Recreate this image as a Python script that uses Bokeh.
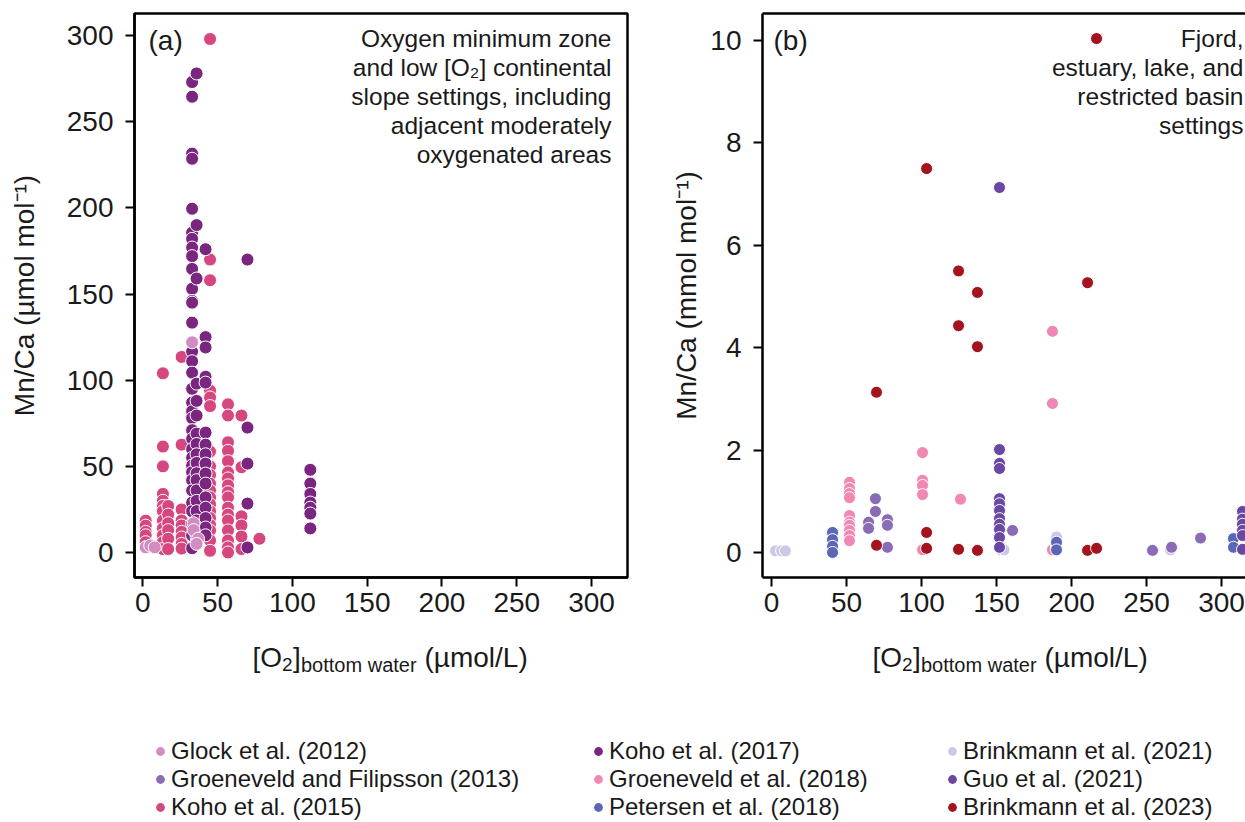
from bokeh.plotting import figure
from bokeh.layouts import column, row
from bokeh.models import Range1d, FixedTicker, Label, Legend, LegendItem, LinearAxis
from bokeh.embed import file_html
from bokeh.resources import INLINE

FONT = "Liberation Sans"
TXT = "#1a1a1a"

# ---------------- data ----------------
series_names = ["Glock et al. (2012)", "Groeneveld and Filipsson (2013)", "Koho et al. (2015)",
                "Koho et al. (2017)", "Groeneveld et al. (2018)", "Petersen et al. (2018)",
                "Brinkmann et al. (2021)", "Guo et al. (2021)", "Brinkmann et al. (2023)"]
series_colors = ["#d38cc2", "#8a6bb5", "#d6467f", "#7a2680", "#f088b3", "#5b66b6",
                 "#cdc8e6", "#6a47a2", "#a3141f"]

x_ticks = [0, 50, 100, 150, 200, 250, 300]
ya_ticks = [0, 50, 100, 150, 200, 250, 300]
yb_ticks = [0, 2, 4, 6, 8, 10]

# Panel (a): Mn/Ca in umol/mol
koho2015_o2 = [2, 2, 2, 2, 2, 2,
               13.5, 13.5, 13.5, 13.5, 13.5, 13.5, 13.5, 13.5, 13.5, 13.5, 13.5, 13.5,
               17, 17, 17, 17, 17, 17,
               26, 26, 26, 26, 26, 26, 26, 26, 26,
               45, 45, 45, 45, 45, 45, 45, 45, 45, 45, 45, 45, 45, 45, 45, 45, 45, 45, 45,
               57, 57, 57, 57, 57, 57, 57, 57, 57, 57, 57, 57, 57, 57, 57, 57, 57,
               66, 66, 66, 66, 66, 66,
               78]
koho2015_mnca = [18.5, 15.6, 12, 10, 6, 3,
                 104, 61.5, 50, 34, 30, 27, 24, 18.5, 14, 10, 6, 2,
                 27, 22, 17, 13, 8, 2,
                 113.5, 62.6, 25, 18.6, 15.7, 12, 8.7, 5, 2.3,
                 298, 170, 158, 94, 90, 85, 58.6, 50, 45, 40, 36, 32, 28, 24, 20, 16, 12.8, 7, 1,
                 86, 79.5, 64, 59, 53, 46.5, 43, 39, 35, 32, 26, 22, 18.6, 12.8, 7, 3, 0,
                 79.5, 49.5, 21, 15.7, 9.3, 2,
                 8]

koho2017_o2 = [33, 33, 33, 33, 33, 33, 33, 33, 33, 33, 33, 33, 33, 33, 33, 33, 33,
               33, 33, 33, 33, 33, 33, 33, 33, 33, 33, 33, 33, 33, 33, 33, 33, 33,
               36, 36, 36, 36, 36, 36, 36, 36, 36, 36, 36, 36, 36, 36, 36, 36, 36, 36,
               42, 42, 42, 42, 42, 42, 42, 42, 42, 42, 42, 42, 42, 42, 42, 42,
               70, 70, 70, 70, 70,
               112, 112, 112, 112, 112, 112, 112]
koho2017_mnca = [273, 264.5, 231.5, 228.5, 199.5, 185.6, 182, 177, 172, 164.6, 153, 146, 145, 133.4,
                 116.6, 111, 104.4, 95, 87, 82, 78, 71, 66, 60, 55, 50.5, 46.6, 42, 36, 29, 24,
                 16.8, 10, 2.5,
                 278, 190, 159, 98, 88, 79.5, 69, 63, 57, 52, 46, 42, 36, 30, 24, 18.6, 12.8, 8.7,
                 176, 125, 119, 102, 98.6, 69.6, 62.6, 57, 51.6, 45.8, 40, 32, 26, 20, 14.5, 10,
                 170, 72.5, 51.6, 28.4, 2.9,
                 48, 40, 34, 29, 26, 22.6, 14]

glock2012_o2 = [2, 5, 8, 33, 34, 34, 37, 36]
glock2012_mnca = [3, 4, 3, 122, 17, 13, 8, 5]

# Panel (b): Mn/Ca in mmol/mol
gf2013_o2 = [69.3, 69.3, 64.7, 64.7, 77.3, 77.3, 77.3, 160.7, 254, 266.7, 286]
gf2013_mnca = [1.05, 0.8, 0.59, 0.47, 0.64, 0.53, 0.1, 0.43, 0.04, 0.1, 0.28]

groen2018_o2 = [187.3, 187.3, 187.3, 100.7, 100.7, 100.7, 100.7, 100.7, 126,
                52, 52, 52, 52, 52, 52, 52, 52, 52, 52]
groen2018_mnca = [4.32, 2.91, 0.05, 1.95, 1.41, 1.31, 1.13, 0.05, 1.04,
                  1.37, 1.25, 1.15, 1.07, 0.72, 0.59, 0.53, 0.43, 0.33, 0.23]

petersen2018_o2 = [40.7, 40.7, 40.7, 40.7, 190, 190, 190, 308, 308]
petersen2018_mnca = [0.39, 0.25, 0.12, 0.0, 0.15, 0.2, 0.05, 0.27, 0.1]

brink2021_o2 = [2.7, 6.7, 9.3, 153, 155, 190, 190, 266]
brink2021_mnca = [0.03, 0.03, 0.03, 0.05, 0.05, 0.3, 0.1, 0.05]

guo2021_o2 = [152, 152, 152, 152, 152, 152, 152, 152, 152, 152, 152, 152,
              314, 314, 314, 314, 314, 314]
guo2021_mnca = [7.13, 2.01, 1.74, 1.64, 1.05, 0.95, 0.82, 0.66, 0.55, 0.45, 0.29, 0.1,
                0.8, 0.65, 0.55, 0.43, 0.33, 0.06]

brink2023_o2 = [216.7, 103.4, 124.7, 137.3, 210.7, 124.7, 137.3, 70, 70, 103.4, 103.4,
                124.7, 137.3, 210.7, 216.7]
brink2023_mnca = [10.04, 7.5, 5.5, 5.08, 5.27, 4.43, 4.02, 3.13, 0.14, 0.39, 0.08,
                  0.06, 0.04, 0.04, 0.08]

COL = dict(zip(series_names, series_colors))

FRAME_H = 564


def make_panel(xr, yr, yticks, ylabel, fw, mbl, mbr, label_standoff, outline):
    p = figure(frame_width=fw, frame_height=FRAME_H, x_range=xr, y_range=yr,
               output_backend="svg", toolbar_location=None,
               min_border_left=mbl, min_border_right=mbr, min_border_top=13,
               min_border_bottom=50)
    p.grid.visible = False
    p.background_fill_color = "white"
    p.border_fill_color = "white"
    xa = p.below[0]
    ya = p.left[0]
    xa.ticker = FixedTicker(ticks=x_ticks, minor_ticks=[])
    ya.ticker = FixedTicker(ticks=yticks, minor_ticks=[])
    for ax in (xa, ya):
        ax.axis_line_width = 2.5
        ax.axis_line_color = "black"
        ax.major_tick_line_width = 2
        ax.major_tick_line_color = "black"
        ax.major_tick_out = 9
        ax.major_tick_in = 0
        ax.minor_tick_line_color = None
        ax.major_label_text_font = FONT
        ax.major_label_text_font_size = "28px"
        ax.major_label_text_color = TXT
    xa.major_label_standoff = 6
    ya.major_label_standoff = 12
    ya.axis_label = ylabel
    ya.axis_label_text_font = FONT
    ya.axis_label_text_font_size = "28px"
    ya.axis_label_text_font_style = "normal"
    ya.axis_label_text_color = TXT
    ya.axis_label_standoff = label_standoff
    if outline:
        p.outline_line_color = "black"
        p.outline_line_width = 2.5
    else:
        p.outline_line_color = None
        top = LinearAxis(ticker=FixedTicker(ticks=[], minor_ticks=[]),
                         major_tick_line_color=None, minor_tick_line_color=None,
                         major_tick_out=0, major_tick_in=0, major_label_standoff=0,
                         major_label_text_font_size="0px", axis_line_width=2.5,
                         axis_line_color="black")
        p.add_layout(top, "above")
    return p


def add_lines(p, lines, xr_screen, tops, fs="24.5px"):
    for t, yy in zip(lines, tops):
        p.add_layout(Label(x=xr_screen, y=FRAME_H - yy, x_units="screen", y_units="screen",
                           text=t, text_font=FONT, text_font_size=fs, text_color=TXT,
                           text_align="right", text_baseline="middle"))


# ---------------- panel (a) ----------------
pa = make_panel(Range1d(-5.5, 324), Range1d(-14.5, 312.8), ya_ticks,
                "Mn/Ca (\u00b5mol mol\u207b\u00b9)", 493, 134, 13, 24, True)

for name, xs, ys in [("Koho et al. (2015)", koho2015_o2, koho2015_mnca),
                     ("Koho et al. (2017)", koho2017_o2, koho2017_mnca),
                     ("Glock et al. (2012)", glock2012_o2, glock2012_mnca)]:
    pa.scatter(xs, ys, size=13, fill_color=COL[name], line_color="white", line_width=1)

pa.add_layout(Label(x=14, y=FRAME_H - 27, x_units="screen", y_units="screen", text="(a)",
                    text_font=FONT, text_font_size="28px", text_color=TXT,
                    text_align="left", text_baseline="middle"))
add_lines(pa, ["Oxygen minimum zone", "and low [O\u2082] continental", "slope settings, including",
               "adjacent moderately", "oxygenated areas"], 477, [25, 54, 83, 112, 141])

# ---------------- panel (b) ----------------
pb = make_panel(Range1d(-6, 316), Range1d(-0.49, 10.53), yb_ticks,
                "Mn/Ca (mmol mol\u207b\u00b9)", 483, 122, 0, 5, False)

for name, xs, ys in [("Groeneveld et al. (2018)", groen2018_o2, groen2018_mnca),
                     ("Brinkmann et al. (2021)", brink2021_o2, brink2021_mnca),
                     ("Groeneveld and Filipsson (2013)", gf2013_o2, gf2013_mnca),
                     ("Petersen et al. (2018)", petersen2018_o2, petersen2018_mnca),
                     ("Guo et al. (2021)", guo2021_o2, guo2021_mnca),
                     ("Brinkmann et al. (2023)", brink2023_o2, brink2023_mnca)]:
    pb.scatter(xs, ys, size=12, fill_color=COL[name], line_color="white", line_width=1)

pb.add_layout(Label(x=11, y=FRAME_H - 27, x_units="screen", y_units="screen", text="(b)",
                    text_font=FONT, text_font_size="28px", text_color=TXT,
                    text_align="left", text_baseline="middle"))
add_lines(pb, ["Fjord,", "estuary, lake, and", "restricted basin", "settings"], 481,
          [25, 54, 83, 112])

# ---------------- bottom strip: x-axis titles + legend ----------------
STRIP_H = 195
pl = figure(width=1245, height=STRIP_H, x_range=Range1d(0, 1), y_range=Range1d(0, 1),
            output_backend="svg", toolbar_location=None, x_axis_type=None, y_axis_type=None,
            min_border=0)
pl.grid.visible = False
pl.outline_line_color = None


def add_xlabel(p, x0):
    # "[O2]bottom water (umol/L)" with subscripts
    yc = STRIP_H - 30
    pieces = [("[O", 0, "28px", 0), ("2", 29.6, "19px", -7), ("]", 40.5, "28px", 0),
              ("bottom water", 48.5, "20px", -7), ("(\u00b5mol/L)", 172, "28px", 0)]
    for t, dx, fs, dy in pieces:
        p.add_layout(Label(x=x0 + dx, y=yc + dy, x_units="screen", y_units="screen", text=t,
                           text_font=FONT, text_font_size=fs, text_color=TXT,
                           text_align="left", text_baseline="middle"))


add_xlabel(pl, 252)
add_xlabel(pl, 872)

rend = {}
for name in series_names:
    # proxy renderers (placed outside the visible range) that only feed the legend
    rend[name] = pl.scatter([-5], [-5], size=9, fill_color=COL[name], line_color=None)

cols = [series_names[0:3], series_names[3:6], series_names[6:9]]
col_x = [149, 587, 941]
for names, lx in zip(cols, col_x):
    lg = Legend(items=[LegendItem(label=n, renderers=[rend[n]]) for n in names],
                location=(lx, 1), orientation="vertical", padding=0, margin=0,
                spacing=0, glyph_width=22, glyph_height=24, label_height=24,
                label_standoff=0, label_text_font=FONT, label_text_font_size="24px",
                label_text_color=TXT, border_line_color=None, background_fill_alpha=0)
    pl.add_layout(lg)

layout = column(row(pa, pb), pl)

open("out.html", "w").write(file_html(layout, INLINE))
